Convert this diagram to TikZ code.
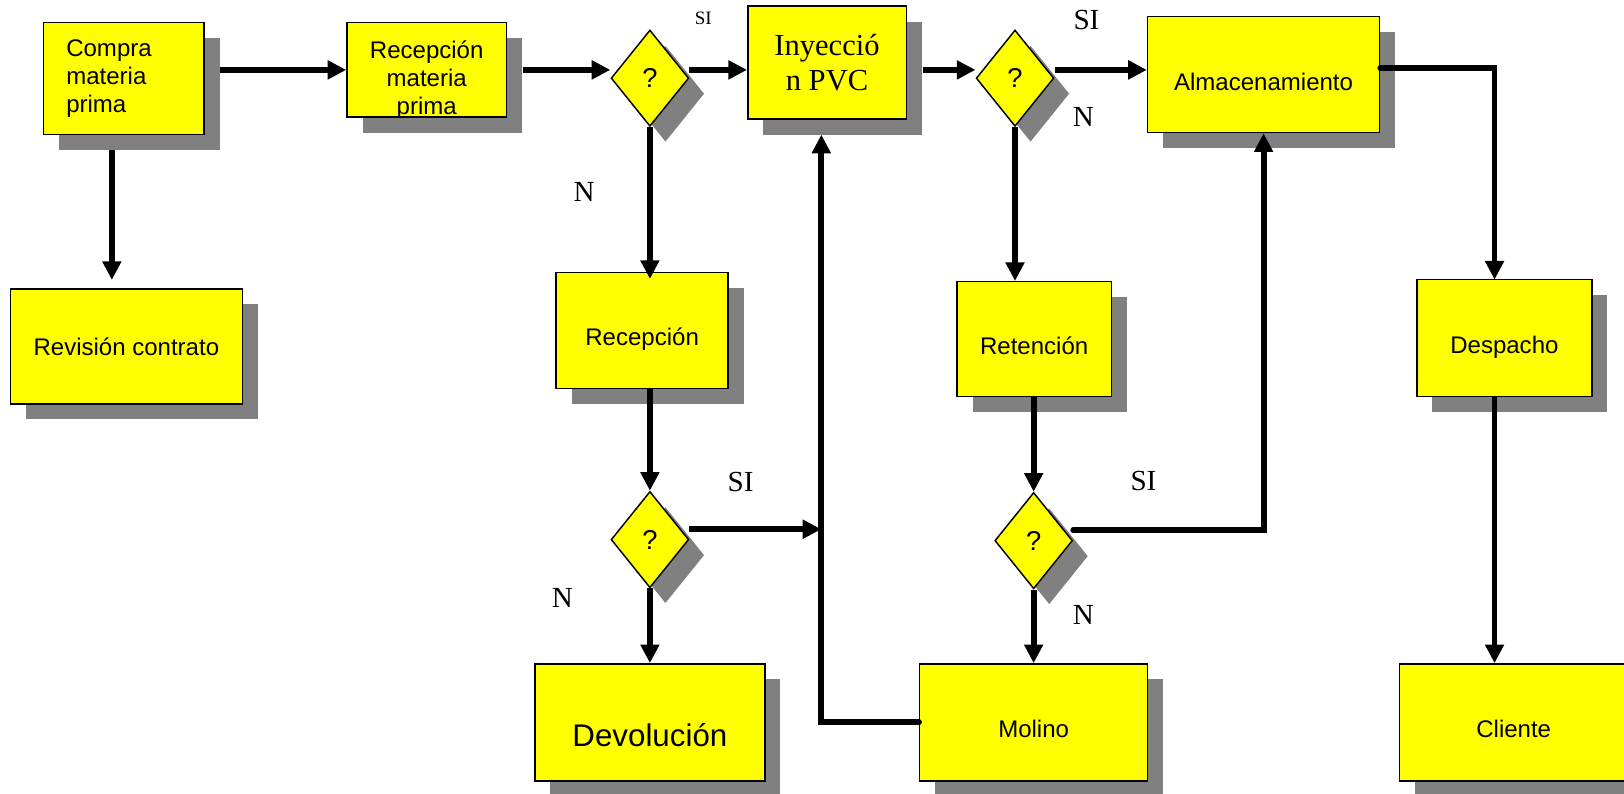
\documentclass[tikz,border=0pt]{standalone}
\usepackage{fontspec}
\setmainfont{Liberation Sans}
\newfontfamily\timesfont{Liberation Serif}
\usetikzlibrary{shapes.geometric,arrows.meta,shadows,calc}
\definecolor{amarillo}{RGB}{255,255,0}

\begin{document}
\begin{tikzpicture}[
    font=\fontsize{6.6}{7.8}\selectfont,
    sombra/.style={drop shadow={shadow xshift=1.5mm, shadow yshift=-1.5mm, fill=black!50, opacity=1}},
    caja/.style={draw=black, fill=amarillo, line width=0.4pt, inner sep=2pt, align=center, sombra},
    baja/.style={text height=10pt, text depth=1.5pt},
    rombo/.style={diamond, draw=black, fill=amarillo, line width=0.4pt, inner sep=0pt, minimum width=0.75cm, minimum height=0.93cm, font=\fontsize{7.5}{9}\selectfont, sombra},
    flecha/.style={-{Triangle[length=1.8mm, width=1.75mm]}, line width=1.6pt},
    etiqueta/.style={font=\timesfont\fontsize{8}{9}\selectfont, inner sep=0pt}
]
    \useasboundingbox (0,0) rectangle (15.68,-7.66);

    % Fila superior
    \node[caja, minimum width=1.55cm, minimum height=1.08cm, text width=1.11cm, align=left] (compra) at (1.195,-0.76) {Compra\\materia\\prima};
    \node[caja, minimum width=1.54cm, minimum height=0.91cm] (recmp) at (4.12,-0.675) {};
    \begin{scope}
        \clip (recmp.south west) rectangle (recmp.north east);
        \node[align=center, inner sep=0pt] (recmptxt) at ([yshift=-1mm]recmp.center) {Recepción\\materia\\prima};
    \end{scope}
    \node[rombo] (d1) at (6.275,-0.755) {?};
    \node[caja, minimum width=1.53cm, minimum height=1.09cm, font=\timesfont\fontsize{8.4}{9.6}\selectfont] (iny) at (7.985,-0.605) {Inyecció\\n PVC};
    \node[rombo] (d2) at (9.80,-0.755) {?};
    \node[caja, baja, minimum width=2.24cm, minimum height=1.12cm] (alm) at (12.20,-0.72) {Almacenamiento};

    % Fila central
    \node[caja, minimum width=2.24cm, minimum height=1.11cm] (revision) at (1.22,-3.345) {Revisión contrato};
    \node[caja, baja, minimum width=1.66cm, minimum height=1.12cm] (recep) at (6.20,-3.19) {Recepción};
    \node[caja, baja, minimum width=1.49cm, minimum height=1.11cm] (reten) at (9.985,-3.275) {Retención};
    \node[caja, baja, minimum width=1.69cm, minimum height=1.13cm] (desp) at (14.525,-3.265) {Despacho};
    \node[rombo] (d3) at (6.275,-5.21) {?};
    \node[rombo] (d4) at (9.98,-5.22) {?};

    % Fila inferior
    \node[caja, minimum width=2.22cm, minimum height=1.13cm, text height=15pt, text depth=2pt, font=\fontsize{8.6}{10}\selectfont] (devol) at (6.275,-6.975) {Devolución};
    \node[caja, baja, minimum width=2.20cm, minimum height=1.13cm] (molino) at (9.98,-6.975) {Molino};
    \node[caja, baja, minimum width=2.21cm, minimum height=1.13cm] (cliente) at (14.615,-6.975) {Cliente};

    % Puntos de paso
    \coordinate (baja1) at (1.08,-1.45);
    \coordinate (retorno) at (7.93,-1.30);
    \coordinate (bajada) at (14.43,-2.70);

    % Flujo principal
    \draw[flecha] ([xshift=1.5mm]compra.east |- recmp.west) -- (recmp.west);
    \draw[flecha] ([xshift=1.5mm]recmp.east) -- (recmp.east -| d1.west);
    \draw[flecha] (recmp.east -| d1.east) -- (recmp.east -| iny.west);
    \draw[flecha] ([xshift=1.5mm]iny.east |- recmp.east) -- (recmp.east -| d2.west);
    \draw[flecha] (recmp.east -| d2.east) -- (recmp.east -| alm.west);
    \draw[flecha, line cap=round] ([yshift=.6mm]alm.east) -| (bajada);
    \draw[flecha] (bajada |- desp.south) -- (bajada |- cliente.north);
    \draw[flecha] (baja1) -- ([yshift=.8mm]baja1 |- revision.north);

    % Ramas de control
    \draw[flecha] (d1.south) -- ([yshift=-.7mm]d1.south |- recep.north);
    \draw[flecha] (d3.north |- recep.south) -- (d3.north);
    \draw[flecha] (d3.south) -- (devol.north);
    \draw[flecha] ([yshift=1mm]d3.east) -- ([yshift=1mm]d3.east -| retorno);
    \draw[flecha, line cap=round] (molino.west) -| (retorno);
    \draw[flecha] (d2.south) -- (d2.south |- reten.north);
    \draw[flecha] (d4.north |- reten.south) -- (d4.north);
    \draw[flecha] (d4.south) -- (molino.north);
    \draw[flecha, line cap=round] ([yshift=1mm]d4.east) -| (alm.south);

    % Etiquetas SI / N
    \node[etiqueta, font=\timesfont\fontsize{5.2}{6}\selectfont] (si1) at (6.79,-0.18) {SI};
    \node[etiqueta] (si2) at (10.49,-0.19) {SI};
    \node[etiqueta] (n2) at (10.46,-1.13) {N};
    \node[etiqueta] (n1) at (5.64,-1.85) {N};
    \node[etiqueta] (si3) at (7.15,-4.65) {SI};
    \node[etiqueta] (n3) at (5.43,-5.77) {N};
    \node[etiqueta] (si4) at (11.04,-4.64) {SI};
    \node[etiqueta] (n4) at (10.46,-5.94) {N};

\end{tikzpicture}
\end{document}
